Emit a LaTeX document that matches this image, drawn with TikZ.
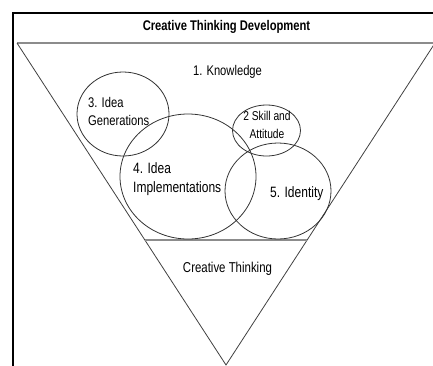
\documentclass[tikz,border=0pt]{standalone}
\usepackage{fontspec}
\setmainfont{Liberation Sans}[FakeStretch=0.8]
\usetikzlibrary{shapes.geometric}
\tikzset{
  ring/.style={draw=black!80, line width=0.8pt, ellipse, inner sep=0pt},
  lbl/.style={inner sep=0pt, font=\fontsize{14}{18}\selectfont, text=black},
  side/.style={draw=black!75, line width=0.8pt},
  sep/.style={draw=black!45, line width=1.5pt}
}
\begin{document}
\begin{tikzpicture}[x=1pt,y=-1pt]
\useasboundingbox (0,0) rectangle (433,365);
\clip (0,0) rectangle (433,365);
% frame
\draw[line width=2pt] (13,400) -- (13,13) -- (460,13);
% title
\node[lbl, font=\fontsize{14}{15}\selectfont\bfseries, anchor=base] (title) at (226.5,30) {Creative Thinking Development};
% triangle
\coordinate (tl) at (17,43);
\coordinate (tr) at (435,43);
\coordinate (ap) at (226,365);
\coordinate (ml) at (145,240);
\coordinate (mr) at (307,240);
\draw[sep] (tl) -- (tr);
\draw[side] (tl) -- (ap) -- (tr);
\draw[sep] (ml) -- (mr);
% circles
\node[ring, minimum width=92pt, minimum height=84pt] (c3) at (123,114) {};
\node[ring, minimum width=136pt, minimum height=125pt] (c4) at (188,176.5) {};
\node[ring, minimum width=68pt, minimum height=51pt] (c2) at (266.5,130.5) {};
\node[ring, minimum width=106pt, minimum height=96pt] (c5) at (278,191) {};
% labels
\node[lbl, anchor=base] (k) at (227.5,75) {1. Knowledge};
\node[lbl, anchor=base west, align=left] (t3) at (88,125) {3. Idea\\Generations};
\node[lbl, anchor=base west, align=left, font=\fontsize{15}{19}\selectfont] (t4) at (133,192) {4. Idea\\Implementations};
\node[lbl, anchor=base, align=center, font=\fontsize{12.8}{18}\selectfont] (t2) at (267,138) {2 Skill and\\Attitude};
\node[lbl, anchor=base west, font=\fontsize{15}{18}\selectfont] (t5) at (270,197) {5. Identity};
\node[lbl, anchor=base, font=\fontsize{14.3}{18}\selectfont] (ct) at (227.5,272.5) {Creative Thinking};
\end{tikzpicture}
\end{document}
